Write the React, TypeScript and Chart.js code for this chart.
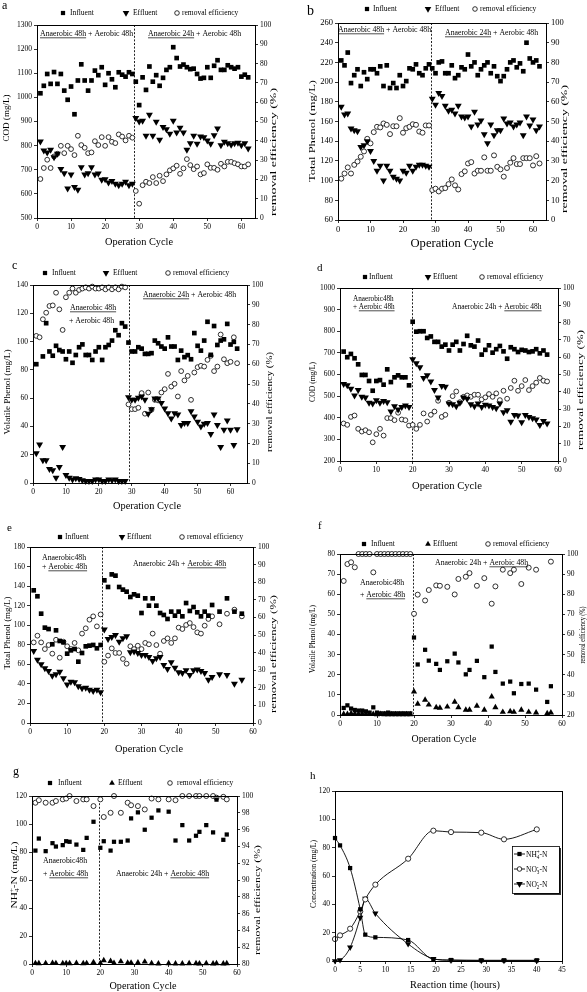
import React, { useEffect, useRef } from 'react';
import { Chart, registerables } from 'chart.js';

Chart.register(...registerables);

const SERIF = '"Liberation Serif", "Times New Roman", serif';
const W = 587;
const H = 992;

// ---------------- shared categories / ticks ----------------
const cycles62 = [1,2,3,4,5,6,7,8,9,10,11,12,13,14,15,16,17,18,19,20,21,22,23,24,25,26,27,28,29,30,31,32,33,34,35,36,37,38,39,40,41,42,43,44,45,46,47,48,49,50,51,52,53,54,55,56,57,58,59,60,61,62];
const cycles57 = [1,2,3,4,5,6,7,8,9,10,11,12,13,14,15,16,17,18,19,20,21,22,23,24,25,26,27,28,29,30,31,32,33,34,35,36,37,38,39,40,41,42,43,44,45,46,47,48,49,50,51,52,53,54,55,56,57];
const cyclesE = [1,2,3,4,5,6,7,8,9,10,11,12,13,14,15,16,17,18,19,20,21,22,23,24,25,26,27,28,29,30,31,32,33,34,35,36,37,38,39,40,41,42,43,44,45,46,47,48,49,51,53,55,57];
const cyclesF = [1,2,3,4,5,6,7,8,9,10,11,12,13,14,15,16,17,18,19,20,21,23,24,26,27,29,31,32,34,35,37,39,41,42,44,46,47,49,51,53,56,57];
const cyclesG = [1,2,4,6,7,9,10,11,13,15,16,18,20,21,23,24,26,28,29,31,33,35,37,40,42,44,46,48,49,51,53,54,56,57];
const hoursH = [0,1,3,5,6,8,14.5,19.5,23,29,33.5,40];

const cycleTicks = [0,10,20,30,40,50,60];
const pctTicks = [0,10,20,30,40,50,60,70,80,90,100];
const codTicksA = [500,600,700,800,900,1000,1100,1200,1300];
const phenolTicksB = [60,80,100,120,140,160,180,200,220,240,260];
const volTicksC = [0,20,40,60,80,100,120,140];
const codTicksD = [200,300,400,500,600,700,800,900,1000];
const phenolTicksE = [0,20,40,60,80,100,120,140,160,180];
const volTicksF = [0,10,20,30,40,50,60,70,80];
const pctTicksF = [20,30,40,50,60,70,80,90,100];
const nTicksG = [0,20,40,60,80,100,120];
const pctTicksG = [80,82,84,86,88,90,92,94,96,98,100];
const hourTicksH = [0,5,10,15,20,25,30,35,40,45];
const concTicksH = [0,20,40,60,80,100,120];

// ---------------- panel a : COD ----------------
const codInfluentA = [1017,1048,1097,1056,1105,1056,1097,1028,990,1045,930,1070,1137,1070,1028,1070,1111,1092,1125,1052,1100,1075,1042,1104,1094,1086,1104,1097,1065,968,1083,1031,1128,1065,1092,1048,1081,1114,1125,1208,1163,1128,1136,1125,1117,1119,1097,1078,1081,1125,1081,1131,1154,1114,1114,1133,1125,1119,1125,1086,1094,1083];
const codEffluentA = [817,780,772,783,752,766,703,686,622,680,628,617,710,680,686,710,680,684,659,661,647,653,642,636,642,650,636,642,914,900,903,841,928,841,899,824,877,868,849,903,854,874,854,783,810,841,808,838,835,821,808,843,871,802,816,810,804,810,812,802,810,788];
const codRemovalA = [20.2,25.9,30.2,25.9,31.9,33.3,37.4,33.6,37.4,35.7,32.6,42.6,37.8,36.4,33.6,34,39.8,37.8,41.9,37.4,41.9,39.5,38.8,43.3,42.2,40.2,42.6,41.6,14,7.4,17,18.8,18.1,21.2,18.1,21.9,19.1,22.6,24.7,25.7,27.1,22.9,25.7,30.5,27.4,25.3,26.7,22.6,23.3,27.8,26,26,25,28.1,26.7,29.1,29.1,28.4,27.8,26.7,26.7,27.8];

// ---------------- panel b : total phenol ----------------
const tpInfluentB = [222,217,230,199,207,213,196,210,203,213,213,209,216,196,217,194,199,194,207,196,201,214,213,218,209,207,214,218,214,209,220,221,209,209,217,204,207,215,213,228,216,220,207,213,217,220,209,216,206,201,206,213,220,222,215,219,211,240,224,220,222,216];
const tpEffluentB = [175,167,168,153,151,150,134,136,140,130,120,110,115,100,115,110,104,102,100,110,108,115,110,114,116,116,115,114,183,177,189,186,176,171,172,168,176,165,164,165,155,170,157,161,147,138,157,146,151,151,163,158,159,155,157,159,146,165,156,162,151,155];
const tpRemovalB = [21,23.6,26.7,23.6,28,29.7,32.1,34.8,41.2,38.9,44.6,47.3,47,49,48.3,43.6,47.6,47.6,51.7,44.3,46.6,47.3,48.6,48.3,44.9,44.3,48,48,15.2,15.9,14.5,15.9,16.2,18.2,20.6,17.6,15.5,23.3,24.7,28.7,29.4,23.6,25,25,31.8,25,25,32.8,27,25.7,22,26.4,29.1,31.4,28.4,28.4,31.4,31.4,31.4,27.7,32.4,28.7];

// ---------------- panel c : volatile phenol ----------------
const vpInfluentC = [84,null,89.5,113,93,90,97,94,93,87.5,93,85,90.5,96,98,90.5,90.5,87,93,96,87,96,97.6,100.7,108,104.5,113,110.6,99.3,93,93,96,95,91.3,91.3,91.8,100.7,98.8,96.5,95,103,96.5,96.5,87,93.6,89,90.4,87.5,106,97,93.6,100.7,114,90.6,111,97.6,100.7,101.6,112.5,97.9,99.8,95];
const vpEffluentC = [21,27.3,16,16,9.9,9,3.8,11.3,25.4,5.6,3.8,2.4,3.3,2.8,1.9,1.4,1.4,1.4,2.4,2.4,1.4,1.4,2.4,1.9,2.4,1.4,1.4,1.4,60.7,58.8,58.8,60.2,61.2,58.8,49,52.2,59.8,59.8,56.5,52.7,49.4,45.6,49.4,48.5,41,42.4,42.4,50.8,47,43.3,40,41.9,42.4,34.6,48.5,41,25.4,37.6,44.2,37.6,26.8,38];
const vpRemovalC = [74.3,73.6,82.7,86,89.4,89.7,96.1,87.7,77.3,93.8,96.1,98.2,96.1,97.5,98.2,98.8,98.2,99.2,98.2,98.2,98.8,97.8,98.8,97.8,98.8,97.8,99.2,98.8,39.7,37.3,37.3,38,45.4,35,45.7,37,42,41.7,45.7,47.4,55.1,48.7,50.1,43.7,56.5,51.8,54.1,42,55.8,58.5,59.2,58.8,62.2,64.2,56.5,58.8,75,62.5,60.5,61.2,73.6,60.5];

// ---------------- panel d : COD ----------------
const codInfluentD = [706,680,695,675,647,598,598,570,525,570,574,553,624,565,587,596,587,587,550,844,798,800,800,769,776,751,751,729,738,711,738,751,711,741,779,735,729,757,692,714,735,701,717,732,707,673,726,717,704,714,711,704,707,717,698,711,692];
const codEffluentD = [556,550,534,503,528,497,494,469,466,481,469,478,472,429,453,438,450,457,450,670,652,633,584,596,568,528,494,547,543,466,463,453,469,494,488,463,453,466,450,460,457,450,444,466,426,435,382,413,410,379,413,404,398,392,367,385,373];
const codRemovalD = [21.7,20.9,25.5,26.3,18.6,17,17.8,16.6,10.8,15.5,18.6,14.7,24.8,24.8,23.6,27.9,24,23.6,20.5,20.9,18.6,20.9,27.5,22.8,26.7,28.6,34.8,25.5,26.7,33.7,37.5,40.2,34,37.1,37.9,37.1,38.3,38.3,35.6,36.8,38.7,37.1,39.1,35.2,40.6,36,42.2,46.4,40.6,43.3,46.8,41,43.3,45.3,48,46.4,46];

// ---------------- panel e : total phenol ----------------
const tpInfluentE = [135.7,129.6,111.8,97.5,96.1,80.5,94.8,83.9,82.5,70.9,74.3,75.7,62.7,71.6,78.4,79.1,79.8,76.4,79.8,145.9,139.1,152,150.7,139.1,136.4,134.3,128.9,131.6,130.2,112.5,127.5,120,127.5,120,112.5,110.5,106.4,113.9,109.8,113.9,109.1,122.7,114.6,118.6,113.2,109.1,113.9,109.8,120.7,113.9,127.5,113.9,111.8];
const tpEffluentE = [73.6,64.8,60,55.9,53.2,48.4,49.8,52.5,45.7,39.5,42.3,41.6,37.5,35.5,36.1,34.1,32.7,34.1,31.4,95.5,85.9,88,90,83.2,86.6,88.6,72.3,73,71.6,69.6,69.6,67.5,63.4,66.1,67.5,59.3,55.2,62.1,56.6,51.8,51.1,53.9,49.1,53.9,54.6,53.2,51.1,44.3,47,49.8,49.1,40.2,44.3];
const tpRemovalE = [45.8,49.6,45.8,42,44.3,39.4,47.3,37.1,46.2,43.6,42,45.5,41.3,50.8,53.8,58.7,60.6,54.9,61.7,34.8,38.3,42.4,39.8,39.8,36.4,33.7,43.6,42,43.9,42,45.5,44.7,50.8,44.3,39.4,46.6,48.1,45.5,48.1,54.2,53.4,55.7,56.8,54.5,51.5,50.8,55.3,59.1,60.6,56.1,62.1,64.4,60.6];

// ---------------- panel f : volatile phenol ----------------
const vpInfluentF = [3.5,4.8,3.2,2.5,2.2,2.2,1.8,1.2,3.8,1.2,0.8,0.8,1.2,0.8,0.8,0.8,0.8,0.8,0.8,38.5,25.1,32.4,27,25.4,22.4,26.7,30.5,26.1,20.2,22.4,26.9,18.8,34,21.4,15.6,16.6,10.8,15.4,15.6,12.6,6.5,14.3];
const vpEffluentF = [0.5,0.4,0.8,0.6,0.5,0.6,0.4,0.5,0.5,0.3,0.4,0.3,0.3,0.3,0.3,0.3,0.3,0.3,0.3,11.6,5.5,7.5,5.1,3.8,3.5,4.1,6.5,3.8,2.5,2.5,4.5,2.5,9.1,3.8,1.5,1.8,1.5,2.5,1.5,1.2,0.8,1.2];
const vpRemovalF = [86.6,95,95.9,93.4,100,100,100,100,90.9,100,100,100,100,100,100,100,100,100,100,70.3,79.8,76.9,82.1,84.4,84.2,83.7,79.9,87.6,88.7,90.5,84.2,88,75.3,83.9,92.2,90.5,92.2,85.1,93.2,92.2,null,96.2];

// ---------------- panel g : NH4+-N ----------------
const nhInfluentG = [81,89.6,80.6,86.3,83.9,84.9,87.7,87.3,85.3,81.5,90.1,101.6,83,87.7,81,87.3,87.3,88.2,104,108.3,95.9,104.5,109.7,108.8,88.2,99.2,88.2,91.6,94.4,99.2,94,117.4,88.7,92.5];
const nhEffluentG = [0.5,0.4,0.5,0.6,0.5,0.4,0.5,0.4,0.6,0.4,0.5,1.2,0.5,2.6,2.0,0.6,1.8,0.8,0.9,1.0,1.6,0.4,0.3,0.4,0.3,0.3,0.4,0.4,0.3,0.4,0.3,0.4,0.3,0.4];
const nhRemovalG = [99.2,99.5,99.2,99.2,99.4,99.6,99.7,100,99.4,99.6,99.6,98.8,99.6,97.5,98,100,98,99.2,98.9,98.8,98.4,99.7,99.6,99.6,99.5,100,100,100,100,100,100,99.8,99.9,99.6];

// ---------------- panel h : nitrogen species ----------------
const nh4H = [86.8,81.6,65.6,36.5,18.6,16.7,14.8,1.2,0.7,0.5,0.5,0.5];
const no3H = [15.5,18.1,22.8,35,43.5,53.9,72.2,92,91,90.6,85.9,92.9];
const no2H = [0,0.7,9.6,30.6,44,33.6,12,1.6,0.5,0.3,0.3,0.3];

// ---------------- types ----------------
type Shape = 'square' | 'triDown' | 'triUp' | 'circle';
type Seg = { t: string; u?: boolean; sub?: boolean; sup?: boolean; stack?: boolean };
type Rng = { min: number; max: number; ticks: number[] };
interface Series { label: string; xs: number[]; ys: (number | null)[]; shape: Shape; axis: 'y' | 'y2'; r: number; line?: boolean }
interface PanelCfg {
  id: string;
  area: [number, number, number, number];
  x: Rng; y: Rng; y2?: Rng;
  tickSize: number;
  series: Series[];
  switchX?: number;
  letter: { t: string; x: number; y: number; size: number };
  legend?: { y: number; size: number; items: { shape: Shape; mx: number; tx: number; label: string }[] };
  notes: { x: number; y: number; size?: number; segs: Seg[] }[];
  yTitle: { segs: Seg[]; x: number; cy: number; len: number; size: number };
  y2Title?: { segs: Seg[]; x: number; cy: number; len: number; size: number };
  xTitle: { segs: Seg[]; cx: number; cy: number; len: number; size: number };
  boxLegend?: { x: number; y: number; w: number; h: number; x0: number; x1: number; tx: number; size: number; rows: { shape: Shape; y: number; segs: Seg[] }[] };
}

const NOTE = 7.8;
const u48 = (pre: string): Seg[] => [{ t: pre }, { t: 'Aerobic 48h', u: true }];

const legendStd = (y: number, xs: number[], up: boolean) => ({
  y, size: 7.5,
  items: [
    { shape: 'square' as Shape, mx: xs[0], tx: xs[1], label: 'Influent' },
    { shape: (up ? 'triUp' : 'triDown') as Shape, mx: xs[2], tx: xs[3], label: 'Effluent' },
    { shape: 'circle' as Shape, mx: xs[4], tx: xs[5], label: 'removal efficiency' },
  ],
});

const rem = 'removal efficiency (%)';
const opCycle: Seg[] = [{ t: 'Operation Cycle' }];

const PANELS: PanelCfg[] = [
  {
    id: 'a', area: [37, 25, 255, 218],
    x: { min: 0, max: 64, ticks: cycleTicks }, y: { min: 500, max: 1300, ticks: codTicksA }, y2: { min: 0, max: 100, ticks: pctTicks },
    tickSize: 7.5,
    series: [
      { label: 'Influent', xs: cycles62, ys: codInfluentA, shape: 'square', axis: 'y', r: 3.3 },
      { label: 'Effluent', xs: cycles62, ys: codEffluentA, shape: 'triDown', axis: 'y', r: 4 },
      { label: 'removal efficiency', xs: cycles62, ys: codRemovalA, shape: 'circle', axis: 'y2', r: 2.4 },
    ],
    switchX: 28.5,
    letter: { t: 'a', x: 2, y: 9, size: 12 },
    legend: legendStd(13, [63, 70, 126, 133, 177, 182], false),
    notes: [
      { x: 40, y: 36, segs: [{ t: 'Anaerobic 48h', u: true }, { t: ' + Aerobic 48h' }] },
      { x: 148, y: 36, segs: [{ t: 'Anaerobic 24h', u: true }, { t: ' + Aerobic 48h' }] },
    ],
    yTitle: { segs: [{ t: 'COD (mg/L)' }], x: 6, cy: 118, len: 47, size: 8.5 },
    y2Title: { segs: [{ t: rem }], x: 273, cy: 152, len: 128, size: 8.5 },
    xTitle: { segs: opCycle, cx: 139, cy: 241, len: 68, size: 10.5 },
  },
  {
    id: 'b', area: [338, 23, 546, 220],
    x: { min: 0, max: 64, ticks: cycleTicks }, y: { min: 60, max: 260, ticks: phenolTicksB }, y2: { min: 0, max: 100, ticks: pctTicks },
    tickSize: 8.5,
    series: [
      { label: 'Influent', xs: cycles62, ys: tpInfluentB, shape: 'square', axis: 'y', r: 3.3 },
      { label: 'Effluent', xs: cycles62, ys: tpEffluentB, shape: 'triDown', axis: 'y', r: 4 },
      { label: 'removal efficiency', xs: cycles62, ys: tpRemovalB, shape: 'circle', axis: 'y2', r: 2.5 },
    ],
    switchX: 28.5,
    letter: { t: 'b', x: 307, y: 15, size: 14 },
    legend: legendStd(9, [367, 373, 428, 435, 475, 480], false),
    notes: [
      { x: 338, y: 32, segs: [{ t: 'Anaerobic 48h', u: true }, { t: ' + Aerobic 48h' }] },
      { x: 445, y: 35, segs: [{ t: 'Anaerobic 24h', u: true }, { t: ' + Aerobic 48h' }] },
    ],
    yTitle: { segs: [{ t: 'Total Phenol (mg/L)' }], x: 312, cy: 131, len: 102, size: 8.5 },
    y2Title: { segs: [{ t: rem }], x: 564, cy: 149, len: 128, size: 8.5 },
    xTitle: { segs: opCycle, cx: 452, cy: 243, len: 83, size: 12.5 },
  },
  {
    id: 'c', area: [33, 285, 247, 483],
    x: { min: 0, max: 65, ticks: cycleTicks }, y: { min: 0, max: 140, ticks: volTicksC }, y2: { min: 0, max: 100, ticks: pctTicks },
    tickSize: 7.5,
    series: [
      { label: 'Influent', xs: cycles62, ys: vpInfluentC, shape: 'square', axis: 'y', r: 3.3 },
      { label: 'Effluent', xs: cycles62, ys: vpEffluentC, shape: 'triDown', axis: 'y', r: 4 },
      { label: 'removal efficiency', xs: cycles62, ys: vpRemovalC, shape: 'circle', axis: 'y2', r: 2.4 },
    ],
    switchX: 29.1,
    letter: { t: 'c', x: 12, y: 269, size: 12 },
    legend: legendStd(273, [45, 52, 106, 113, 168, 173], false),
    notes: [
      { x: 70, y: 310, segs: [{ t: 'Anaerobic 48h', u: true }] },
      { x: 69, y: 323, segs: [{ t: '+ Aerobic 48h' }] },
      { x: 143, y: 297, segs: [{ t: 'Anaerobic 24h', u: true }, { t: ' + Aerobic 48h' }] },
    ],
    yTitle: { segs: [{ t: 'Volatile Phenol (mg/L)' }], x: 7, cy: 392, len: 85, size: 8.5 },
    y2Title: { segs: [{ t: rem }], x: 269, cy: 402, len: 100, size: 8.5 },
    xTitle: { segs: opCycle, cx: 147, cy: 505, len: 68, size: 10.5 },
  },
  {
    id: 'd', area: [340, 288, 558, 461],
    x: { min: 0, max: 60, ticks: cycleTicks }, y: { min: 200, max: 1000, ticks: codTicksD }, y2: { min: 0, max: 100, ticks: pctTicks },
    tickSize: 7.5,
    series: [
      { label: 'Influent', xs: cycles57, ys: codInfluentD, shape: 'square', axis: 'y', r: 3.3 },
      { label: 'Effluent', xs: cycles57, ys: codEffluentD, shape: 'triDown', axis: 'y', r: 4 },
      { label: 'removal efficiency', xs: cycles57, ys: codRemovalD, shape: 'circle', axis: 'y2', r: 2.4 },
    ],
    switchX: 19.7,
    letter: { t: 'd', x: 317, y: 271, size: 11 },
    legend: legendStd(277, [365, 369, 428, 433, 482, 487], false),
    notes: [
      { x: 353, y: 301, size: 7.2, segs: [{ t: 'Anaerobic48h' }] },
      { x: 353, y: 309, size: 7.2, segs: u48('+ ') },
      { x: 452, y: 309, size: 7.5, segs: u48('Anaerobic 24h + ') },
    ],
    yTitle: { segs: [{ t: 'COD (mg/L)' }], x: 312, cy: 382, len: 40, size: 8 },
    y2Title: { segs: [{ t: rem }], x: 580, cy: 390, len: 120, size: 8.5 },
    xTitle: { segs: opCycle, cx: 447, cy: 485, len: 70, size: 10.5 },
  },
  {
    id: 'e', area: [30, 547, 253, 723],
    x: { min: 0, max: 60, ticks: cycleTicks }, y: { min: 0, max: 180, ticks: phenolTicksE }, y2: { min: 0, max: 100, ticks: pctTicks },
    tickSize: 7.5,
    series: [
      { label: 'Influent', xs: cyclesE, ys: tpInfluentE, shape: 'square', axis: 'y', r: 3.3 },
      { label: 'Effluent', xs: cyclesE, ys: tpEffluentE, shape: 'triDown', axis: 'y', r: 4 },
      { label: 'removal efficiency', xs: cyclesE, ys: tpRemovalE, shape: 'circle', axis: 'y2', r: 2.4 },
    ],
    switchX: 19.4,
    letter: { t: 'e', x: 7, y: 531, size: 11 },
    legend: legendStd(537, [60, 65, 122, 127, 182, 187], false),
    notes: [
      { x: 42, y: 560, segs: [{ t: 'Anaerobic48h' }] },
      { x: 42, y: 569, segs: u48('+ ') },
      { x: 133, y: 566, segs: u48('Anaerobic 24h + ') },
    ],
    yTitle: { segs: [{ t: 'Total Phenol (mg/L)' }], x: 7, cy: 633, len: 73, size: 8.5 },
    y2Title: { segs: [{ t: rem }], x: 273, cy: 654, len: 118, size: 8.5 },
    xTitle: { segs: opCycle, cx: 149, cy: 748, len: 68, size: 10.5 },
  },
  {
    id: 'f', area: [340, 554, 562, 715],
    x: { min: 0, max: 60, ticks: cycleTicks }, y: { min: 0, max: 80, ticks: volTicksF }, y2: { min: 20, max: 100, ticks: pctTicksF },
    tickSize: 7.5,
    series: [
      { label: 'Influent', xs: cyclesF, ys: vpInfluentF, shape: 'square', axis: 'y', r: 3 },
      { label: 'Effluent', xs: cyclesF, ys: vpEffluentF, shape: 'triUp', axis: 'y', r: 3.6 },
      { label: 'removal efficiency', xs: cyclesF, ys: vpRemovalF, shape: 'circle', axis: 'y2', r: 2.5 },
    ],
    switchX: 19.6,
    letter: { t: 'f', x: 318, y: 529, size: 11 },
    legend: legendStd(544, [364, 371, 428, 433, 488, 493], true),
    notes: [
      { x: 360, y: 585, segs: [{ t: 'Anaerobic48h' }] },
      { x: 360, y: 597, segs: u48('+ ') },
      { x: 435, y: 565, segs: u48('Anaerobic 24h + ') },
    ],
    yTitle: { segs: [{ t: 'Volatile Phenol (mg/L)' }], x: 312, cy: 639, len: 68, size: 8.5 },
    y2Title: { segs: [{ t: rem }], x: 582, cy: 635, len: 57, size: 8 },
    xTitle: { segs: opCycle, cx: 444, cy: 738, len: 65, size: 10.5 },
  },
  {
    id: 'g', area: [32, 796, 237, 964],
    x: { min: 0, max: 60, ticks: cycleTicks }, y: { min: 0, max: 120, ticks: nTicksG }, y2: { min: 80, max: 100, ticks: pctTicksG },
    tickSize: 7.5,
    series: [
      { label: 'Influent', xs: cyclesG, ys: nhInfluentG, shape: 'square', axis: 'y', r: 3 },
      { label: 'Effluent', xs: cyclesG, ys: nhEffluentG, shape: 'triUp', axis: 'y', r: 3.6 },
      { label: 'removal efficiency', xs: cyclesG, ys: nhRemovalG, shape: 'circle', axis: 'y2', r: 2.5 },
    ],
    switchX: 19.5,
    letter: { t: 'g', x: 13, y: 775, size: 12 },
    legend: legendStd(783, [50, 58, 112, 118, 170, 177], true),
    notes: [
      { x: 43, y: 863, segs: [{ t: 'Anaerobic48h' }] },
      { x: 43, y: 876, segs: u48('+ ') },
      { x: 116, y: 876, segs: u48('Anaerobic 24h + ') },
    ],
    yTitle: { segs: [{ t: 'NH' }, { t: '+', sup: true, stack: true }, { t: '4', sub: true }, { t: '-N (mg/L)' }], x: 14, cy: 875, len: 67, size: 8.5 },
    y2Title: { segs: [{ t: rem }], x: 257, cy: 900, len: 110, size: 8.5 },
    xTitle: { segs: opCycle, cx: 143, cy: 985, len: 67, size: 10.5 },
  },
  {
    id: 'h', area: [335, 791, 562, 961],
    x: { min: 0, max: 45, ticks: hourTicksH }, y: { min: 0, max: 120, ticks: concTicksH },
    tickSize: 7.5,
    series: [
      { label: 'NH4+-N', xs: hoursH, ys: nh4H, shape: 'square', axis: 'y', r: 3, line: true },
      { label: 'NO3--N', xs: hoursH, ys: no3H, shape: 'circle', axis: 'y', r: 2.6, line: true },
      { label: 'NO2--N', xs: hoursH, ys: no2H, shape: 'triDown', axis: 'y', r: 3.6, line: true },
    ],
    letter: { t: 'h', x: 310, y: 779, size: 11 },
    notes: [],
    yTitle: { segs: [{ t: 'Concentration (mg/L)' }], x: 313, cy: 874, len: 68, size: 8.5 },
    xTitle: { segs: [{ t: 'Reaction time (hours)' }], cx: 455, cy: 984, len: 90, size: 10.5 },
    boxLegend: {
      x: 512, y: 846, w: 47, h: 47, x0: 514, x1: 525, tx: 526, size: 7.5,
      rows: [
        { shape: 'square', y: 854, segs: [{ t: 'NH' }, { t: '+', sup: true, stack: true }, { t: '4', sub: true }, { t: '-N' }] },
        { shape: 'circle', y: 869, segs: [{ t: 'NO' }, { t: '-', sup: true, stack: true }, { t: '3', sub: true }, { t: '-N' }] },
        { shape: 'triDown', y: 884, segs: [{ t: 'NO' }, { t: '-', sup: true, stack: true }, { t: '2', sub: true }, { t: '-N' }] },
      ],
    },
  },
];

// ---------------- drawing helpers ----------------
const font = (s: number) => `${s}px ${SERIF}`;
const segFont = (s: Seg, size: number) => font(s.sub || s.sup ? size * 0.68 : size);

function richWidth(ctx: CanvasRenderingContext2D, segs: Seg[], size: number) {
  let w = 0;
  for (const s of segs) {
    ctx.font = segFont(s, size);
    if (!s.stack) w += ctx.measureText(s.t).width;
  }
  return w;
}

function drawRich(ctx: CanvasRenderingContext2D, segs: Seg[], x: number, y: number, size: number) {
  let cx = x;
  for (const s of segs) {
    ctx.font = segFont(s, size);
    const w = ctx.measureText(s.t).width;
    const dy = s.sub ? size * 0.3 : s.sup ? -size * 0.38 : 0;
    ctx.fillText(s.t, cx, y + dy);
    if (s.u) {
      let x0 = cx;
      let ww = w;
      ctx.beginPath();
      ctx.lineWidth = 0.7;
      ctx.moveTo(x0, y + 1.8);
      ctx.lineTo(x0 + ww, y + 1.8);
      ctx.stroke();
    }
    if (!s.stack) cx += w;
  }
}

function drawFit(ctx: CanvasRenderingContext2D, segs: Seg[], cx: number, cy: number, len: number, size: number, rot: boolean) {
  ctx.save();
  ctx.translate(cx, cy);
  if (rot) ctx.rotate(-Math.PI / 2);
  ctx.textBaseline = 'alphabetic';
  ctx.textAlign = 'left';
  const w = richWidth(ctx, segs, size);
  ctx.scale(len / w, 1);
  drawRich(ctx, segs, -w / 2, size * 0.34, size);
  ctx.restore();
}

function drawMarker(ctx: CanvasRenderingContext2D, shape: Shape, x: number, y: number, r: number) {
  ctx.save();
  ctx.fillStyle = '#000';
  ctx.strokeStyle = '#000';
  ctx.lineWidth = 0.8;
  ctx.beginPath();
  if (shape === 'square') {
    const s = r * Math.SQRT1_2;
    ctx.rect(x - s, y - s, 2 * s, 2 * s);
    ctx.fill();
  } else if (shape === 'triDown') {
    ctx.moveTo(x, y + r);
    ctx.lineTo(x - r * 0.866, y - r * 0.5);
    ctx.lineTo(x + r * 0.866, y - r * 0.5);
    ctx.closePath();
    ctx.fill();
  } else if (shape === 'triUp') {
    ctx.moveTo(x, y - r);
    ctx.lineTo(x + r * 0.866, y + r * 0.5);
    ctx.lineTo(x - r * 0.866, y + r * 0.5);
    ctx.closePath();
    ctx.fill();
  } else {
    ctx.arc(x, y, r, 0, Math.PI * 2);
    ctx.fillStyle = '#fff';
    ctx.fill();
    ctx.stroke();
  }
  ctx.restore();
}

const legendR: Record<Shape, number> = { square: 3, triDown: 3.8, triUp: 3.3, circle: 2.3 };

function mkScale(pos: string, s: Rng, size: number, tickSize: number) {
  return {
    type: 'linear',
    position: pos,
    min: s.min,
    max: s.max,
    afterBuildTicks: (sc: any) => { sc.ticks = s.ticks.map((v) => ({ value: v })); },
    afterFit: (sc: any) => { if (pos === 'bottom') sc.height = size; else sc.width = size; },
    ticks: {
      font: { family: SERIF, size: tickSize },
      color: '#000',
      padding: 2,
      autoSkip: false,
      maxRotation: 0,
      minRotation: 0,
      callback: (v: any) => String(v),
    },
    grid: { display: true, drawOnChartArea: false, drawTicks: true, tickLength: 3, color: '#000', lineWidth: 0.8 },
    border: { display: true, color: '#000', width: 1 },
  };
}

function mkDataset(s: Series) {
  const data: { x: number; y: number }[] = [];
  s.xs.forEach((x, i) => {
    const y = s.ys[i];
    if (y !== null && y !== undefined) data.push({ x, y });
  });
  const ds: any = {
    label: s.label,
    data,
    yAxisID: s.axis,
    clip: false,
    showLine: !!s.line,
    borderColor: '#000',
    borderWidth: 0.9,
    cubicInterpolationMode: 'monotone',
    pointRadius: s.r,
    pointHoverRadius: s.r,
    pointBorderColor: '#000',
  };
  if (s.shape === 'square') Object.assign(ds, { pointStyle: 'rect', pointBackgroundColor: '#000', pointBorderWidth: 0 });
  else if (s.shape === 'triDown') Object.assign(ds, { pointStyle: 'triangle', pointRotation: 180, pointBackgroundColor: '#000', pointBorderWidth: 0 });
  else if (s.shape === 'triUp') Object.assign(ds, { pointStyle: 'triangle', pointRotation: 0, pointBackgroundColor: '#000', pointBorderWidth: 0 });
  else Object.assign(ds, { pointStyle: 'circle', pointBackgroundColor: '#fff', pointBorderWidth: 0.8 });
  return ds;
}

function decoPlugin(cfg: PanelCfg) {
  return {
    id: 'deco_' + cfg.id,
    beforeDatasetsDraw(chart: any) {
      if (cfg.switchX === undefined) return;
      const ctx: CanvasRenderingContext2D = chart.ctx;
      const a = chart.chartArea;
      const px = Math.round(chart.scales.x.getPixelForValue(cfg.switchX)) + 0.5;
      ctx.save();
      ctx.strokeStyle = '#222';
      ctx.lineWidth = 1;
      ctx.setLineDash([2, 1.6]);
      ctx.beginPath();
      ctx.moveTo(px, a.top);
      ctx.lineTo(px, a.bottom);
      ctx.stroke();
      ctx.restore();
    },
    afterDraw(chart: any) {
      const ctx: CanvasRenderingContext2D = chart.ctx;
      const a = chart.chartArea;
      ctx.save();
      ctx.strokeStyle = '#000';
      ctx.fillStyle = '#000';
      ctx.lineWidth = 1;
      ctx.strokeRect(Math.round(a.left) + 0.5, Math.round(a.top) + 0.5, Math.round(a.right - a.left), Math.round(a.bottom - a.top));

      // panel letter
      ctx.textAlign = 'left';
      ctx.textBaseline = 'alphabetic';
      ctx.font = font(cfg.letter.size);
      ctx.fillText(cfg.letter.t, cfg.letter.x, cfg.letter.y);

      // legend row above plot
      if (cfg.legend) {
        const L = cfg.legend;
        for (const it of L.items) {
          drawMarker(ctx, it.shape, it.mx, L.y, legendR[it.shape]);
          ctx.fillStyle = '#000';
          ctx.font = font(L.size);
          ctx.textBaseline = 'middle';
          ctx.fillText(it.label, it.tx, L.y + 0.5);
        }
      }

      // phase notes
      ctx.textBaseline = 'alphabetic';
      for (const n of cfg.notes) {
        ctx.fillStyle = '#000';
        ctx.strokeStyle = '#000';
        drawRich(ctx, n.segs, n.x, n.y, n.size ?? NOTE);
      }

      // axis titles
      drawFit(ctx, cfg.yTitle.segs, cfg.yTitle.x, cfg.yTitle.cy, cfg.yTitle.len, cfg.yTitle.size, true);
      if (cfg.y2Title) drawFit(ctx, cfg.y2Title.segs, cfg.y2Title.x, cfg.y2Title.cy, cfg.y2Title.len, cfg.y2Title.size, true);
      drawFit(ctx, cfg.xTitle.segs, cfg.xTitle.cx, cfg.xTitle.cy, cfg.xTitle.len, cfg.xTitle.size, false);

      // boxed legend (panel h)
      if (cfg.boxLegend) {
        const B = cfg.boxLegend;
        ctx.fillStyle = '#333';
        ctx.fillRect(B.x + 2, B.y + 2, B.w, B.h);
        ctx.fillStyle = '#fff';
        ctx.fillRect(B.x, B.y, B.w, B.h);
        ctx.strokeStyle = '#000';
        ctx.lineWidth = 0.8;
        ctx.strokeRect(B.x + 0.5, B.y + 0.5, B.w, B.h);
        for (const row of B.rows) {
          ctx.beginPath();
          ctx.strokeStyle = '#000';
          ctx.lineWidth = 0.9;
          ctx.moveTo(B.x0, row.y);
          ctx.lineTo(B.x1, row.y);
          ctx.stroke();
          drawMarker(ctx, row.shape, (B.x0 + B.x1) / 2, row.y, legendR[row.shape]);
          ctx.fillStyle = '#000';
          ctx.textBaseline = 'alphabetic';
          drawRich(ctx, row.segs, B.tx, row.y + 2.6, B.size);
        }
      }
      ctx.restore();
    },
  };
}

function Panel({ cfg }: { cfg: PanelCfg }) {
  const ref = useRef<HTMLCanvasElement>(null);
  useEffect(() => {
    const canvas = ref.current;
    if (!canvas) return;
    const [l, t, r, b] = cfg.area;
    const wL = 24;
    const wR = cfg.y2 ? 24 : 0;
    const hX = 16;
    const scales: any = {
      x: mkScale('bottom', cfg.x, hX, cfg.tickSize),
      y: mkScale('left', cfg.y, wL, cfg.tickSize),
    };
    if (cfg.y2) scales.y2 = mkScale('right', cfg.y2, wR, cfg.tickSize);
    const chart = new Chart(canvas, {
      type: 'scatter',
      data: { datasets: cfg.series.map(mkDataset) },
      options: {
        animation: false,
        responsive: false,
        devicePixelRatio: 1,
        events: [],
        layout: { padding: { left: l - wL, top: t, right: W - r - wR, bottom: H - b - hX } },
        plugins: { legend: { display: false }, tooltip: { enabled: false }, colors: { enabled: false } } as any,
        scales,
      } as any,
      plugins: [decoPlugin(cfg) as any],
    });
    return () => chart.destroy();
  }, [cfg]);
  return (
    <canvas
      ref={ref}
      width={W}
      height={H}
      style={{ position: 'absolute', left: 0, top: 0, width: W, height: H }}
    />
  );
}

export default function App() {
  return (
    <div style={{ position: 'absolute', left: 0, top: 0, width: W, height: H, background: '#fff', overflow: 'hidden' }}>
      {PANELS.map((p) => (
        <Panel key={p.id} cfg={p} />
      ))}
    </div>
  );
}
